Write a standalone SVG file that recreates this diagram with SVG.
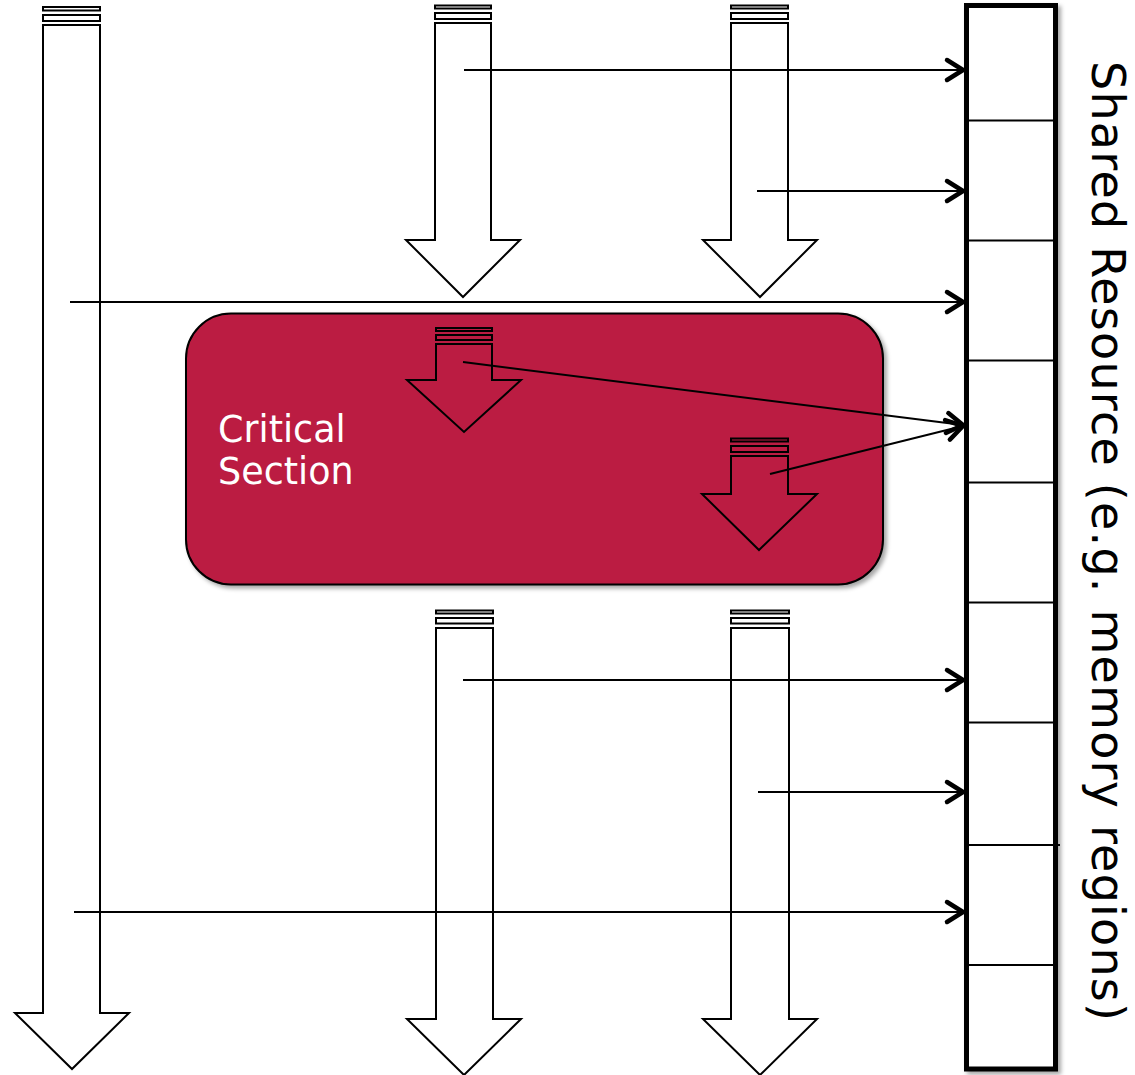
<svg xmlns="http://www.w3.org/2000/svg" width="1135" height="1075" viewBox="0 0 1135 1075">
<style>
.arr{fill:#fff;stroke:#000;stroke-width:2;stroke-linejoin:miter}
.cs .arr{fill:none}
.conn{stroke:#000;stroke-width:2;fill:none;marker-end:url(#chev)}
.div{stroke:#000;stroke-width:2}
.lbl{font-family:"DejaVu Sans",Verdana,sans-serif}
</style>
<defs>
<marker id="chev" markerUnits="userSpaceOnUse" markerWidth="30" markerHeight="30" viewBox="-20 -15 30 30" refX="0" refY="0" orient="auto">
<path d="M-16,-10 L0,0 L-16,10" fill="none" stroke="#000" stroke-width="4.5" stroke-linecap="round" stroke-linejoin="round"/>
</marker>
<filter id="sh" x="-10%" y="-10%" width="130%" height="130%">
<feDropShadow dx="3" dy="3" stdDeviation="2" flood-color="#000" flood-opacity="0.35"/>
</filter>
</defs>
<rect width="1135" height="1075" fill="#fff"/>

<g id="critical-section">
<rect x="186" y="313.5" width="697" height="271" rx="45" fill="#BB1D42" stroke="#000" stroke-width="2" filter="url(#sh)"/>
<text class="lbl" x="218" y="442" font-size="36.5" fill="#fff">Critical</text>
<text class="lbl" x="218" y="484" font-size="36.5" fill="#fff">Section</text>
</g>

<g id="thread-1">
<rect class="arr" x="43" y="7" width="57" height="3.5"/>
<rect class="arr" x="43" y="15" width="57" height="6"/>
<path class="arr" d="M43,25 L100,25 L100,1013 L129,1013 L72,1069 L15,1013 L43,1013 Z"/>
</g>

<g id="thread-2-top">
<rect class="arr" x="435" y="5.5" width="56" height="3"/>
<rect class="arr" x="435" y="13" width="56" height="6"/>
<path class="arr" d="M435,23 L491,23 L491,240 L520,240 L463,297 L406,240 L435,240 Z"/>
</g>

<g id="thread-3-top">
<rect class="arr" x="731" y="5.5" width="57" height="3"/>
<rect class="arr" x="731" y="13" width="57" height="6"/>
<path class="arr" d="M731,23 L788,23 L788,240 L817,240 L760,297 L703,240 L731,240 Z"/>
</g>

<g id="thread-2-critical" class="cs">
<rect class="arr" x="436" y="328" width="56" height="3"/>
<rect class="arr" x="436" y="335" width="56" height="5"/>
<path class="arr" d="M436,344 L492,344 L492,380 L521,380 L464,432 L407,380 L436,380 Z"/>
</g>

<g id="thread-3-critical" class="cs">
<rect class="arr" x="731" y="438.5" width="57" height="3"/>
<rect class="arr" x="731" y="446" width="57" height="6"/>
<path class="arr" d="M731,456 L788,456 L788,494 L817,494 L759,550 L702,494 L731,494 Z"/>
</g>

<g id="thread-2-bottom">
<rect class="arr" x="436" y="610.5" width="57" height="3"/>
<rect class="arr" x="436" y="618" width="57" height="5.5"/>
<path class="arr" d="M436,628 L493,628 L493,1019 L521,1019 L464,1075 L407,1019 L436,1019 Z"/>
</g>

<g id="thread-3-bottom">
<rect class="arr" x="731" y="610.5" width="58" height="3"/>
<rect class="arr" x="731" y="618" width="58" height="5.5"/>
<path class="arr" d="M731,628 L789,628 L789,1019 L817,1019 L760,1075 L703,1019 L731,1019 Z"/>
</g>

<g id="shared-resource">
<rect x="966.5" y="5.5" width="89" height="1063.5" fill="#fff" stroke="#000" stroke-width="5" filter="url(#sh)"/>
<line class="div" x1="966" y1="120.5" x2="1056" y2="120.5"/>
<line class="div" x1="966" y1="240.5" x2="1056" y2="240.5"/>
<line class="div" x1="966" y1="360.5" x2="1056" y2="360.5"/>
<line class="div" x1="966" y1="482.5" x2="1056" y2="482.5"/>
<line class="div" x1="966" y1="602.5" x2="1056" y2="602.5"/>
<line class="div" x1="966" y1="722.5" x2="1058" y2="722.5"/>
<line class="div" x1="966" y1="845" x2="1060" y2="845"/>
<line class="div" x1="966" y1="965" x2="1056" y2="965"/>
<text class="lbl" transform="translate(1092,541) rotate(90)" text-anchor="middle" font-size="46" textLength="960" lengthAdjust="spacing" fill="#000">Shared Resource (e.g. memory regions)</text>
</g>

<g id="connectors">
<line class="conn" x1="464" y1="70" x2="963" y2="70"/>
<line class="conn" x1="757" y1="191" x2="963" y2="191"/>
<line class="conn" x1="70" y1="302" x2="963" y2="302"/>
<line class="conn" x1="463" y1="362" x2="963" y2="425"/>
<line class="conn" x1="770" y1="474" x2="963" y2="426"/>
<line class="conn" x1="463" y1="680" x2="963" y2="680"/>
<line class="conn" x1="758" y1="792" x2="963" y2="792"/>
<line class="conn" x1="74" y1="912" x2="963" y2="912"/>
</g>
</svg>
